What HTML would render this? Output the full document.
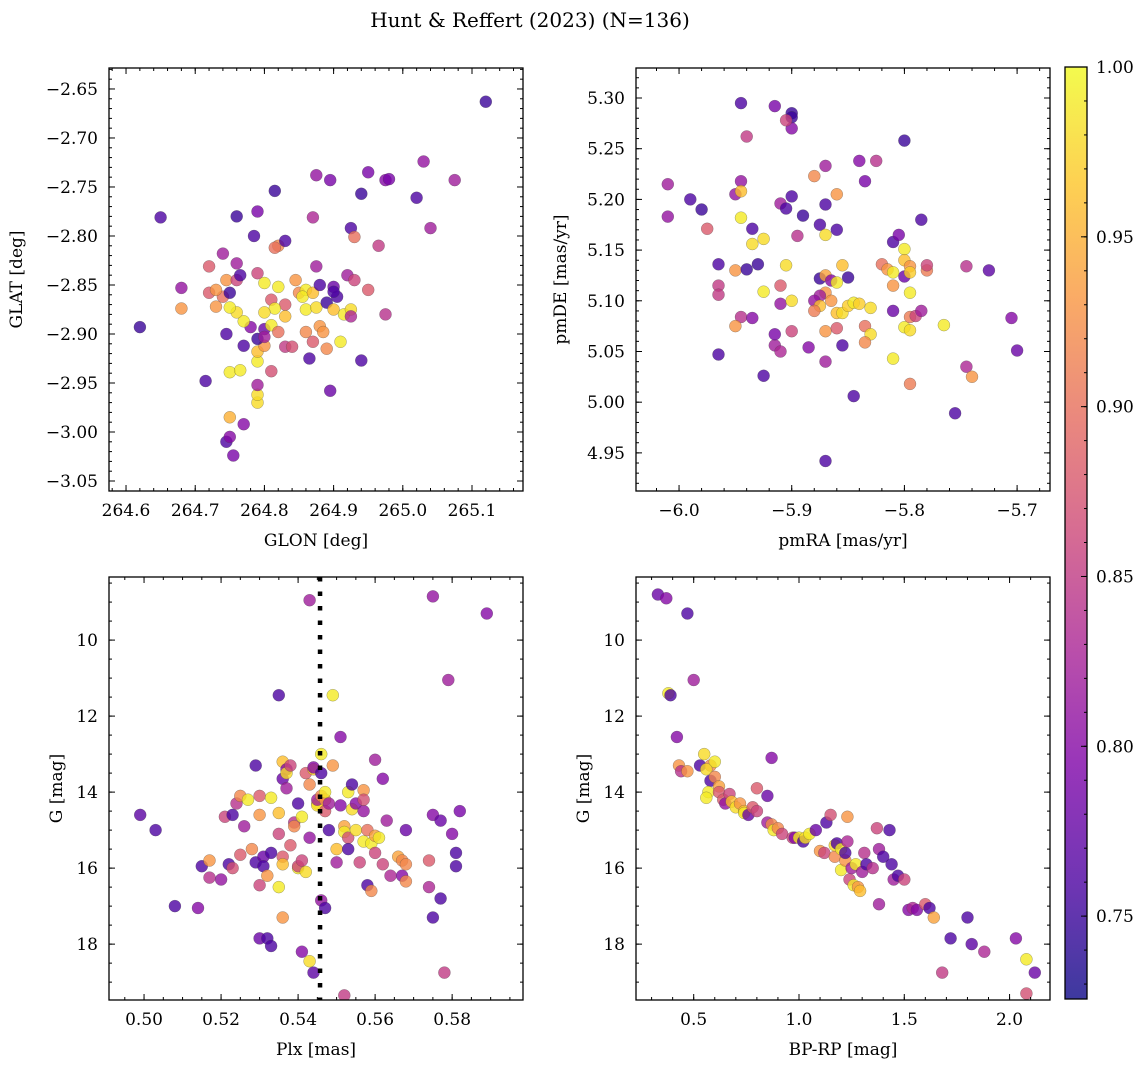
<!DOCTYPE html>
<html><head><meta charset="utf-8"><style>
html,body{margin:0;padding:0;background:#fff;}
svg text{font-family:"DejaVu Serif","Liberation Serif",serif;fill:#000;}
</style></head><body>
<svg id="fig" width="1148" height="1067" viewBox="0 0 1148 1067" xmlns="http://www.w3.org/2000/svg">
<defs>
<linearGradient id="cbgrad" x1="0" y1="1" x2="0" y2="0">
<stop offset="0" stop-color="#0d0887"/><stop offset="0.125" stop-color="#4c02a1"/><stop offset="0.25" stop-color="#7e03a8"/><stop offset="0.375" stop-color="#a92395"/><stop offset="0.5" stop-color="#cc4778"/><stop offset="0.625" stop-color="#e56b5d"/><stop offset="0.75" stop-color="#f89540"/><stop offset="0.875" stop-color="#fdc527"/><stop offset="1" stop-color="#f0f921"/>
</linearGradient>
</defs>
<text x="530" y="27" font-size="20" text-anchor="middle">Hunt &amp; Reffert (2023) (N=136)</text>
</svg>
<script>
// ---- data arrays ----
const glonGlat = [[265.12,-2.663,.75],[264.65,-2.781,.76],[264.62,-2.893,.75],[264.715,-2.948,.76],[264.745,-3.010,.76],[264.755,-3.024,.79],[264.75,-3.005,.80],[264.77,-2.992,.80],[264.75,-2.985,.95],[264.79,-2.970,.98],[264.79,-2.962,.98],[264.79,-2.952,.82],[264.75,-2.939,.99],[264.765,-2.937,.99],[264.79,-2.928,.99],[264.81,-2.938,.87],[264.79,-2.918,.96],[264.80,-2.912,.93],[264.77,-2.912,.76],[264.79,-2.905,.75],[264.80,-2.895,.78],[264.78,-2.893,.80],[264.77,-2.887,.99],[264.76,-2.878,.98],[264.75,-2.873,.99],[264.745,-2.900,.76],[264.73,-2.872,.93],[264.74,-2.862,.90],[264.72,-2.858,.88],[264.73,-2.855,.93],[264.68,-2.874,.93],[264.68,-2.853,.81],[264.72,-2.831,.88],[264.745,-2.845,.93],[264.75,-2.858,.75],[264.76,-2.845,.86],[264.765,-2.840,.76],[264.76,-2.828,.82],[264.74,-2.818,.82],[264.76,-2.780,.75],[264.785,-2.800,.76],[264.79,-2.775,.79],[264.815,-2.754,.75],[264.82,-2.810,.92],[264.815,-2.812,.90],[264.83,-2.805,.76],[264.79,-2.838,.86],[264.80,-2.848,.99],[264.82,-2.852,.99],[264.81,-2.865,.88],[264.83,-2.870,.88],[264.815,-2.874,.99],[264.80,-2.878,.98],[264.83,-2.882,.96],[264.81,-2.891,.99],[264.82,-2.898,.90],[264.80,-2.903,.82],[264.83,-2.913,.85],[264.84,-2.913,.87],[264.845,-2.845,.93],[264.85,-2.858,.92],[264.86,-2.855,.99],[264.855,-2.862,.99],[264.87,-2.858,.96],[264.86,-2.875,.99],[264.875,-2.873,.98],[264.86,-2.898,.92],[264.865,-2.925,.76],[264.88,-2.892,.93],[264.885,-2.898,.93],[264.87,-2.908,.88],[264.89,-2.915,.92],[264.895,-2.958,.78],[264.875,-2.831,.82],[264.87,-2.781,.83],[264.875,-2.738,.81],[264.895,-2.743,.79],[264.9,-2.852,.78],[264.905,-2.862,.76],[264.89,-2.868,.75],[264.9,-2.875,.96],[264.915,-2.880,.99],[264.925,-2.875,.98],[264.925,-2.882,.83],[264.91,-2.908,.99],[264.94,-2.927,.76],[264.92,-2.840,.82],[264.93,-2.845,.86],[264.925,-2.792,.76],[264.93,-2.801,.90],[264.94,-2.757,.75],[264.95,-2.735,.79],[264.95,-2.855,.88],[264.975,-2.880,.84],[264.975,-2.743,.80],[264.98,-2.742,.79],[264.965,-2.810,.85],[265.02,-2.761,.76],[265.03,-2.724,.81],[265.04,-2.792,.82],[265.075,-2.743,.82],[264.9,-2.857,.76],[264.88,-2.850,.76]];
const pmraPmde = [[-6.01,5.215,.82],[-6.01,5.183,.81],[-5.99,5.20,.76],[-5.98,5.19,.75],[-5.975,5.171,.88],[-5.965,5.136,.76],[-5.965,5.115,.85],[-5.965,5.106,.85],[-5.965,5.047,.76],[-5.945,5.295,.76],[-5.94,5.262,.85],[-5.945,5.218,.81],[-5.95,5.205,.81],[-5.945,5.208,.96],[-5.945,5.182,.99],[-5.935,5.156,.98],[-5.935,5.171,.76],[-5.925,5.161,.98],[-5.95,5.13,.93],[-5.94,5.131,.75],[-5.93,5.136,.75],[-5.945,5.084,.84],[-5.95,5.075,.93],[-5.935,5.083,.80],[-5.925,5.109,.99],[-5.925,5.026,.76],[-5.915,5.292,.79],[-5.91,5.196,.82],[-5.905,5.191,.76],[-5.9,5.203,.76],[-5.9,5.285,.75],[-5.9,5.281,.75],[-5.9,5.27,.80],[-5.905,5.278,.86],[-5.91,5.115,.88],[-5.915,5.056,.82],[-5.91,5.05,.83],[-5.915,5.067,.79],[-5.91,5.097,.81],[-5.905,5.135,.98],[-5.9,5.10,.98],[-5.9,5.07,.86],[-5.895,5.164,.84],[-5.89,5.184,.75],[-5.885,5.054,.80],[-5.88,5.223,.92],[-5.875,5.175,.76],[-5.87,5.233,.82],[-5.87,5.195,.76],[-5.87,5.165,.98],[-5.875,5.122,.75],[-5.87,5.125,.94],[-5.865,5.12,.80],[-5.87,5.108,.93],[-5.875,5.105,.82],[-5.88,5.1,.81],[-5.875,5.095,.96],[-5.88,5.09,.91],[-5.87,5.07,.93],[-5.87,5.04,.82],[-5.87,4.942,.76],[-5.86,5.205,.93],[-5.86,5.17,.76],[-5.855,5.135,.96],[-5.86,5.118,.99],[-5.865,5.1,.93],[-5.86,5.088,.96],[-5.86,5.073,.88],[-5.855,5.088,.98],[-5.855,5.056,.76],[-5.85,5.123,.75],[-5.85,5.095,.97],[-5.845,5.098,.99],[-5.845,5.006,.76],[-5.84,5.238,.80],[-5.835,5.218,.79],[-5.84,5.097,.97],[-5.835,5.075,.90],[-5.83,5.093,.98],[-5.83,5.067,.98],[-5.835,5.059,.92],[-5.825,5.238,.84],[-5.82,5.136,.90],[-5.815,5.131,.93],[-5.81,5.128,.99],[-5.81,5.158,.76],[-5.81,5.115,.93],[-5.81,5.09,.78],[-5.81,5.043,.99],[-5.80,5.258,.75],[-5.805,5.165,.79],[-5.80,5.151,.99],[-5.8,5.14,.96],[-5.795,5.134,.93],[-5.8,5.124,.78],[-5.795,5.128,.97],[-5.795,5.108,.99],[-5.8,5.074,.99],[-5.795,5.071,.98],[-5.795,5.084,.91],[-5.79,5.085,.86],[-5.795,5.018,.91],[-5.785,5.180,.76],[-5.785,5.09,.82],[-5.78,5.13,.91],[-5.78,5.135,.86],[-5.765,5.076,.99],[-5.755,4.989,.76],[-5.745,5.134,.84],[-5.745,5.035,.83],[-5.74,5.025,.93],[-5.725,5.13,.77],[-5.705,5.083,.80],[-5.70,5.051,.78]];
const plxG = [[0.499,14.6,.77],[0.503,15.0,.76],[0.508,17.0,.76],[0.514,17.05,.80],[0.515,15.95,.76],[0.517,15.8,.93],[0.517,16.25,.84],[0.520,16.3,.81],[0.521,14.65,.86],[0.522,15.9,.76],[0.523,14.6,.76],[0.523,16.0,.87],[0.524,14.3,.84],[0.525,14.1,.92],[0.525,15.65,.88],[0.526,14.9,.82],[0.527,14.2,.99],[0.528,15.5,.92],[0.529,13.3,.76],[0.529,15.85,.76],[0.530,16.45,.86],[0.530,14.1,.88],[0.530,14.6,.93],[0.530,17.85,.78],[0.531,15.7,.78],[0.531,15.95,.76],[0.532,17.85,.76],[0.532,16.2,.93],[0.533,14.15,.99],[0.533,15.6,.76],[0.533,18.05,.76],[0.535,15.1,.86],[0.535,14.55,.96],[0.535,16.5,.99],[0.535,11.45,.76],[0.536,13.65,.78],[0.536,15.7,.88],[0.536,15.9,.96],[0.536,13.2,.96],[0.537,13.4,.80],[0.537,13.5,.98],[0.537,13.9,.82],[0.536,17.3,.93],[0.538,13.3,.86],[0.538,15.4,.88],[0.539,14.8,.84],[0.539,14.9,.92],[0.540,14.3,.76],[0.540,16.0,.99],[0.540,15.95,.86],[0.541,15.8,.86],[0.541,18.2,.80],[0.541,14.65,.99],[0.542,16.1,.98],[0.542,13.5,.88],[0.543,18.45,.98],[0.543,13.8,.92],[0.543,8.95,.82],[0.543,15.2,.81],[0.544,13.4,.97],[0.544,13.35,.80],[0.544,18.75,.77],[0.545,14.3,.99],[0.545,14.35,.98],[0.545,14.2,.82],[0.546,13.0,.99],[0.546,16.85,.81],[0.546,13.5,.76],[0.546,14.1,.92],[0.547,14.2,.93],[0.547,14.0,.99],[0.547,14.5,.88],[0.547,17.05,.76],[0.548,15.0,.76],[0.548,14.3,.82],[0.549,11.45,.99],[0.549,13.3,.93],[0.550,15.5,.96],[0.550,15.85,.82],[0.551,12.55,.80],[0.551,14.35,.80],[0.552,14.9,.94],[0.552,15.05,.99],[0.552,19.35,.85],[0.553,14.0,.99],[0.553,15.2,.87],[0.553,15.5,.76],[0.554,14.45,.98],[0.554,13.8,.76],[0.555,15.0,.98],[0.555,14.3,.80],[0.556,15.85,.86],[0.557,14.5,.81],[0.557,13.95,.93],[0.557,15.3,.99],[0.557,14.2,.87],[0.558,16.45,.76],[0.558,15.0,.90],[0.559,16.6,.92],[0.559,15.35,.99],[0.560,13.15,.82],[0.560,15.15,.94],[0.560,15.6,.86],[0.561,15.2,.99],[0.562,13.65,.80],[0.562,15.9,.86],[0.563,14.75,.82],[0.564,16.2,.83],[0.566,15.7,.94],[0.567,16.2,.80],[0.567,15.8,.92],[0.568,16.35,.92],[0.568,15.0,.78],[0.568,15.9,.92],[0.574,15.8,.88],[0.574,16.5,.83],[0.575,17.3,.76],[0.575,8.85,.81],[0.575,14.6,.80],[0.577,14.75,.78],[0.577,16.8,.76],[0.578,18.75,.85],[0.579,11.05,.82],[0.580,15.1,.80],[0.581,15.6,.76],[0.581,15.95,.76],[0.582,14.5,.79],[0.589,9.3,.80]];
const bprpG = [[0.33,8.8,.78],[0.37,8.9,.80],[0.47,9.3,.76],[0.50,11.05,.82],[0.38,11.4,.99],[0.39,11.45,.76],[0.42,12.55,.80],[0.43,13.3,.93],[0.44,13.45,.84],[0.47,13.45,.93],[0.53,13.3,.76],[0.55,13.0,.98],[0.58,13.3,.92],[0.60,13.2,.99],[0.56,13.4,.98],[0.58,13.7,.76],[0.60,13.6,.92],[0.62,13.85,.94],[0.57,14.0,.99],[0.56,14.15,.99],[0.62,14.0,.88],[0.64,14.2,.88],[0.65,14.3,.81],[0.67,14.05,.86],[0.68,14.25,.96],[0.70,14.4,.98],[0.72,14.3,.93],[0.74,14.5,.96],[0.74,14.55,.99],[0.76,14.6,.78],[0.78,14.4,.88],[0.80,14.5,.86],[0.80,13.9,.88],[0.85,14.1,.78],[0.87,13.1,.80],[0.85,14.8,.82],[0.87,14.85,.92],[0.88,15.0,.99],[0.90,14.95,.92],[0.92,15.1,.86],[0.97,15.2,.86],[0.98,15.2,.80],[1.0,15.2,.99],[1.02,15.3,.76],[1.03,15.2,.98],[1.05,15.1,.99],[1.08,15.0,.78],[1.10,15.55,.93],[1.12,15.6,.86],[1.13,14.8,.76],[1.15,14.6,.87],[1.17,15.7,.92],[1.17,15.4,.98],[1.18,15.35,.76],[1.20,15.5,.99],[1.20,16.05,.99],[1.22,15.8,.93],[1.22,15.6,.76],[1.23,14.65,.93],[1.23,15.3,.83],[1.24,16.3,.86],[1.25,16.0,.82],[1.26,16.45,.99],[1.27,15.9,.99],[1.28,16.5,.93],[1.29,16.6,.96],[1.30,16.1,.82],[1.31,15.6,.84],[1.32,15.9,.76],[1.35,16.0,.84],[1.37,14.95,.86],[1.38,15.5,.82],[1.38,16.95,.82],[1.40,15.7,.76],[1.43,15.0,.76],[1.44,15.9,.76],[1.45,16.3,.82],[1.47,16.2,.76],[1.50,16.3,.86],[1.52,17.1,.80],[1.54,17.05,.83],[1.56,17.1,.80],[1.60,16.95,.88],[1.62,17.05,.76],[1.64,17.3,.94],[1.68,18.75,.85],[1.72,17.85,.76],[1.80,17.3,.76],[1.82,18.0,.77],[1.88,18.2,.83],[2.03,17.85,.80],[2.08,18.4,.99],[2.08,19.3,.87],[2.12,18.75,.78]];
const plxLine = [0.5457];
const cbTicks = [0.75,0.80,0.85,0.90,0.95,1.00];
const cbRange = [0.7256,1.0];

const NS='http://www.w3.org/2000/svg';
const svg=document.getElementById('fig');
function mk(tag,attrs,parent){const e=document.createElementNS(NS,tag);for(const k in attrs)e.setAttribute(k,attrs[k]);(parent||svg).appendChild(e);return e;}
const stops=[[0,[13,8,135]],[0.125,[76,2,161]],[0.25,[126,3,168]],[0.375,[169,35,149]],[0.5,[204,71,120]],[0.625,[229,107,93]],[0.75,[248,149,64]],[0.875,[253,197,39]],[1,[240,249,33]]];
function plasma(v){v=Math.max(0,Math.min(1,v));for(let i=1;i<stops.length;i++){if(v<=stops[i][0]){const a=stops[i-1],b=stops[i];const t=(v-a[0])/(b[0]-a[0]);const c=a[1].map((x,j)=>Math.round(x+(b[1][j]-x)*t));return `rgb(${c[0]},${c[1]},${c[2]})`;}}return 'rgb(240,249,33)';}
function fmt(v,d){const s=Math.abs(v).toFixed(d);return (v<-1e-9?'\u2212':'')+s;}

function panel(o){
  const g=mk('g',{});
  
  
  const {L,R,T,B}=o;
  const sx=v=>L+(v-o.x0)/(o.x1-o.x0)*(R-L);
  const sy=v=>o.yinv? T+(v-o.y0)/(o.y1-o.y0)*(B-T) : B-(v-o.y0)/(o.y1-o.y0)*(B-T);
  const clip='clip-'+o.name;
  const cp=mk('clipPath',{id:clip},g);mk('rect',{x:L,y:T,width:R-L,height:B-T},cp);
  const pts=mk('g',{'clip-path':`url(#${clip})`},g);
  
  
  o.data.forEach(d=>{
    const c=mk('circle',{cx:sx(d[0]).toFixed(1),cy:sy(d[1]).toFixed(1),r:6,fill:plasma((d[2]-cbRange[0])/(cbRange[1]-cbRange[0])),'fill-opacity':0.8,stroke:'#444','stroke-opacity':0.5,'stroke-width':0.5},pts);
    
    
  });
  if(o.vline){o.vline.forEach(v=>{const l=mk('line',{x1:sx(v),x2:sx(v),y1:T,y2:B,stroke:'#000','stroke-width':4.5,'stroke-dasharray':'4.5 10'},g);
    
    });}
  const tk=mk('g',{stroke:'#000','stroke-width':1},g);
  for(let v=Math.ceil(o.x0/o.xmin-1e-6)*o.xmin;v<=o.x1+1e-9;v+=o.xmin){const x=sx(v);if(x<L+0.5||x>R-0.5)continue;
    mk('line',{x1:x,x2:x,y1:B,y2:B-3},tk);mk('line',{x1:x,x2:x,y1:T,y2:T+3},tk);}
  for(let v=Math.ceil(o.y0/o.ymin-1e-6)*o.ymin;v<=o.y1+1e-9;v+=o.ymin){const y=sy(v);if(y<T+0.5||y>B-0.5)continue;
    mk('line',{x1:L,x2:L+3,y1:y,y2:y},tk);mk('line',{x1:R,x2:R-3,y1:y,y2:y},tk);}
  o.xt.forEach(v=>{const x=sx(v);mk('line',{x1:x,x2:x,y1:B,y2:B-6},tk);mk('line',{x1:x,x2:x,y1:T,y2:T+6},tk);
    const t=mk('text',{x:x,y:B+25,'font-size':17,'text-anchor':'middle'},g);t.textContent=fmt(v,o.xd);
    });
  o.yt.forEach(v=>{const y=sy(v);mk('line',{x1:L,x2:L+6,y1:y,y2:y},tk);mk('line',{x1:R,x2:R-6,y1:y,y2:y},tk);
    const t=mk('text',{x:L-11,y:y+6,'font-size':17,'text-anchor':'end'},g);t.textContent=fmt(v,o.yd);
    });
  mk('rect',{x:L,y:T,width:R-L,height:B-T,fill:'none',stroke:'#000','stroke-width':1.3},g);
  const xl=mk('text',{x:(L+R)/2,y:B+55,'font-size':17,'text-anchor':'middle'},g);xl.textContent=o.xlabel;
  
  const yl=mk('text',{x:0,y:0,'font-size':17,'text-anchor':'middle',transform:`translate(${o.ylx},${(T+B)/2}) rotate(-90)`},g);yl.textContent=o.ylabel;
  
}
panel({name:'glon-glat-panel',L:109,R:523,T:68,B:491,x0:264.5754,x1:265.1737,y0:-3.0602,y1:-2.6286,xmin:0.02,ymin:0.01,
  xt:[264.6,264.7,264.8,264.9,265.0,265.1],yt:[-2.65,-2.70,-2.75,-2.80,-2.85,-2.90,-2.95,-3.00,-3.05],xd:1,yd:2,data:glonGlat,xlabel:'GLON [deg]',ylabel:'GLAT [deg]',ylx:22});
panel({name:'pmra-pmde-panel',L:636,R:1050,T:68,B:491,x0:-6.0382,x1:-5.6708,y0:4.9124,y1:5.3296,xmin:0.02,ymin:0.01,
  xt:[-6.0,-5.9,-5.8,-5.7],yt:[5.30,5.25,5.20,5.15,5.10,5.05,5.00,4.95],xd:1,yd:2,data:pmraPmde,xlabel:'pmRA [mas/yr]',ylabel:'pmDE [mas/yr]',ylx:566});
panel({name:'plx-g-panel',L:109,R:523,T:577,B:1000,x0:0.4909,x1:0.5984,y0:8.34,y1:19.47,yinv:true,xmin:0.005,ymin:0.5,
  xt:[0.50,0.52,0.54,0.56,0.58],yt:[10,12,14,16,18],xd:2,yd:0,data:plxG,vline:plxLine,xlabel:'Plx [mas]',ylabel:'G [mag]',ylx:62});
panel({name:'cmd-panel',L:636,R:1050,T:577,B:1000,x0:0.226,x1:2.192,y0:8.34,y1:19.47,yinv:true,xmin:0.1,ymin:0.5,
  xt:[0.5,1.0,1.5,2.0],yt:[10,12,14,16,18],xd:1,yd:0,data:bprpG,xlabel:'BP-RP [mag]',ylabel:'G [mag]',ylx:589});

(function(){
  const L=1065,R=1087,T=67,B=999;
  const g=mk('g',{});
  
  
  mk('rect',{x:L,y:T,width:R-L,height:B-T,fill:'url(#cbgrad)','fill-opacity':0.8},g);
  const sy=v=>B-(v-cbRange[0])/(cbRange[1]-cbRange[0])*(B-T);
  for(let v=0.73;v<=1.0001;v+=0.01){mk('line',{x1:R,x2:R-3,y1:sy(v),y2:sy(v),stroke:'#000','stroke-width':1},g);}
  cbTicks.forEach(v=>{const y=sy(v);mk('line',{x1:R,x2:R-6,y1:y,y2:y,stroke:'#000','stroke-width':1},g);
    const t=mk('text',{x:R+9,y:y+6,'font-size':17},g);t.textContent=v.toFixed(2);
    });
  mk('rect',{x:L,y:T,width:R-L,height:B-T,fill:'none',stroke:'#000','stroke-width':1.3},g);
})();
</script>
</body></html>
